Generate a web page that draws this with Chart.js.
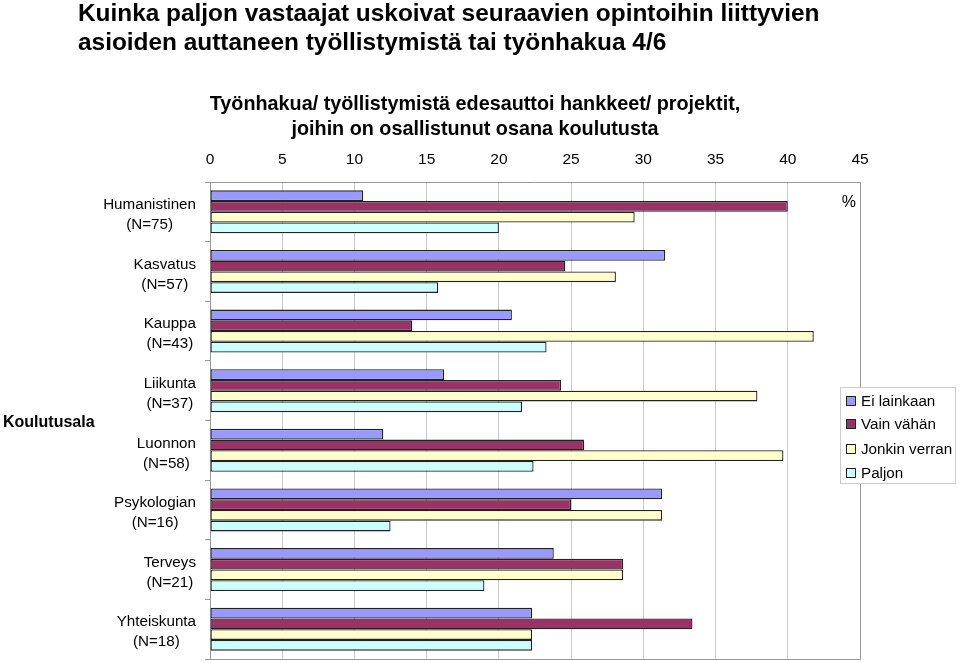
<!DOCTYPE html>
<html>
<head>
<meta charset="utf-8">
<script src="https://cdn.jsdelivr.net/npm/chart.js@4"></script>
<style>
body{margin:0;background:#fff;}
</style>
</head>
<body>
<canvas id="myChart" width="960" height="663"></canvas>
<script>
var categories=[["Humanistinen","(N=75)"],["Kasvatus","(N=57)"],["Kauppa","(N=43)"],["Liikunta","(N=37)"],
  ["Luonnon","(N=58)"],["Psykologian","(N=16)"],["Terveys","(N=21)"],["Yhteiskunta","(N=18)"]];
var eiLainkaan=[10.6,31.5,20.9,16.2,12.0,31.3,23.8,22.3];
var vainVahan=[40.0,24.6,14.0,24.3,25.9,25.0,28.6,33.4];
var jonkinVerran=[29.4,28.1,41.8,37.9,39.7,31.3,28.6,22.3];
var paljon=[20.0,15.8,23.3,21.6,22.4,12.5,19.0,22.3];
var seriesNames=["Ei lainkaan","Vain vähän","Jonkin verran","Paljon"];
var xTicks=[0,5,10,15,20,25,30,35,40,45];
var mainTitle=["Kuinka paljon vastaajat uskoivat seuraavien opintoihin liittyvien","asioiden auttaneen työllistymistä tai työnhakua 4/6"];
var subTitle=["Työnhakua/ työllistymistä edesauttoi hankkeet/ projektit,","joihin on osallistunut osana koulutusta"];
var yTitle="Koulutusala";
var unitLabel="%";

const FONT="'Liberation Sans', Arial, sans-serif";
var colors=["#9999ff","#993366","#ffffcc","#ccffff"];

// texts that are not handled by chart.js itself
const extraText={
  id:"extraText",
  afterDraw(chart){
    const ctx=chart.ctx;
    const area=chart.chartArea;
    ctx.save();
    ctx.fillStyle="#000";
    // main title
    ctx.font="bold 24.4px "+FONT;
    ctx.textAlign="left";
    ctx.textBaseline="alphabetic";
    ctx.fillText(mainTitle[0],78,21);
    ctx.fillText(mainTitle[1],78,50);
    // sub title
    ctx.font="bold 19.8px "+FONT;
    ctx.textAlign="center";
    ctx.fillText(subTitle[0],475,110);
    ctx.fillText(subTitle[1],475,135);
    // category labels, centered lines, block right aligned
    ctx.font="15.2px "+FONT;
    ctx.textBaseline="middle";
    const ys=chart.scales.y;
    for(let ii=0;ii<categories.length;ii++){
      const yc=ys.getPixelForValue(ii);
      let w=0;
      for(const s of categories[ii]){w=Math.max(w,ctx.measureText(s).width);}
      const xc=196-w/2;
      ctx.fillText(categories[ii][0],xc,yc-7);
      ctx.fillText(categories[ii][1],xc,yc+13);
    }
    // y title
    ctx.font="bold 16px "+FONT;
    ctx.textAlign="left";
    ctx.fillText(yTitle,3,423);
    // unit
    ctx.font="16px "+FONT;
    ctx.textAlign="right";
    ctx.fillText(unitLabel,856,203);
    // plot border right + bottom
    ctx.strokeStyle="#999";
    ctx.lineWidth=1;
    ctx.beginPath();
    ctx.moveTo(area.right+0.5,area.top);
    ctx.lineTo(area.right+0.5,area.bottom+0.5);
    ctx.lineTo(area.left,area.bottom+0.5);
    ctx.stroke();
    // legend box
    ctx.fillStyle="#fff";
    ctx.fillRect(840,387,115,96);
    ctx.strokeStyle="#ccc";
    ctx.strokeRect(840.5,387.5,115,96);
    ctx.font="15.2px "+FONT;
    ctx.textAlign="left";
    const rows=[401,424,449,473];
    chart.data.datasets.forEach(function(ds,jj){
      ctx.fillStyle=ds.backgroundColor;
      ctx.fillRect(846.5,rows[jj]-4.5,9,9);
      ctx.strokeStyle="#222";
      ctx.strokeRect(846.5,rows[jj]-4.5,9,9);
      ctx.fillStyle="#000";
      ctx.fillText(ds.label,861,rows[jj]+1);
    });
    ctx.restore();
  }
};

function init_graph(){
  const ctx=document.getElementById("myChart");
  const sets=[eiLainkaan,vainVahan,jonkinVerran,paljon].map(function(vals,ii){
    return {
      label:seriesNames[ii],
      data:vals,
      backgroundColor:colors[ii],
      borderColor:"#222",
      borderWidth:1.3,
      borderSkipped:false,
      barPercentage:1.0,
      categoryPercentage:0.72
    };
  });
  new Chart(ctx,{
    type:"bar",
    data:{labels:categories.map(function(c){return c.join(" ");}),datasets:sets},
    options:{
      indexAxis:"y",
      responsive:false,
      animation:false,
      layout:{padding:{top:150,right:100,bottom:4,left:0}},
      plugins:{legend:{display:false},tooltip:{enabled:false}},
      scales:{
        x:{
          position:"top",
          min:0,max:45,
          afterBuildTicks:function(scale){scale.ticks=xTicks.map(function(v){return {value:v};});},
          afterFit:function(scale){scale.height=32;},
          grid:{color:"#c8c8c8",drawTicks:false},
          border:{color:"#999"},
          ticks:{color:"#000",font:{family:FONT,size:15.5},padding:13}
        },
        y:{
          afterFit:function(scale){scale.width=210;},
          grid:{drawOnChartArea:false,tickLength:5,color:"#999"},
          border:{color:"#999"},
          ticks:{display:false}
        }
      }
    },
    plugins:[extraText]
  });
}
init_graph();
</script>
</body>
</html>
